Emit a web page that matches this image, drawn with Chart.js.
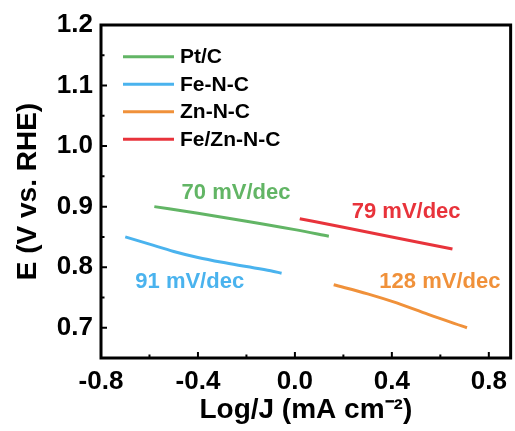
<!DOCTYPE html>
<html>
<head>
<meta charset="utf-8">
<script src="https://cdn.jsdelivr.net/npm/chart.js@4/dist/chart.umd.min.js"></script>
<style>
  html, body { margin: 0; padding: 0; background: #fff; }
  #wrap { width: 515px; height: 431px; }
</style>
</head>
<body>
<div id="wrap"><canvas id="tafelChart"></canvas></div>
<script>
// Tafel plot data
const seriesNames = ['Pt/C', 'Fe-N-C', 'Zn-N-C', 'Fe/Zn-N-C'];
const seriesColors = ['#62b565', '#4ab3ee', '#f0913a', '#e8333b'];

const ptcLogJ = [-0.58, -0.40, -0.20, 0.00, 0.14];
const ptcE    = [0.900, 0.889, 0.876, 0.862, 0.851];

const fencLogJ = [-0.70, -0.60, -0.50, -0.40, -0.30, -0.20, -0.10, -0.055];
const fencE    = [0.850, 0.838, 0.826, 0.816, 0.808, 0.801, 0.794, 0.790];

const zncLogJ = [0.16, 0.30, 0.42, 0.55, 0.71];
const zncE    = [0.771, 0.756, 0.741, 0.722, 0.700];

const fezncLogJ = [0.02, 0.20, 0.40, 0.65];
const fezncE    = [0.880, 0.866, 0.850, 0.830];

const slopeLabels = ['70 mV/dec', '91 mV/dec', '128 mV/dec', '79 mV/dec'];

const xTicks = [-0.8, -0.4, 0.0, 0.4, 0.8];
const yTicks = [0.7, 0.8, 0.9, 1.0, 1.1, 1.2];

// where the slope texts sit (data coords of text centre)
const slopeLabelPos = [
    { x: -0.243, y: 0.922 },
    { x: -0.434, y: 0.775 },
    { x: 0.598, y: 0.775 },
    { x: 0.459, y: 0.892 }
];

const FONT = '"Liberation Sans", Arial, sans-serif';

function toPoints(xs, ys) {
    return xs.map((x, i) => ({ x: x, y: ys[i] }));
}

const allX = [ptcLogJ, fencLogJ, zncLogJ, fezncLogJ];
const allY = [ptcE, fencE, zncE, fezncE];

// frame + inward ticks (major and minor), bottom and left only
const framePlugin = {
    id: 'frame',
    afterDraw(chart) {
        const { ctx, chartArea: a, scales } = chart;
        ctx.save();
        ctx.strokeStyle = '#000';
        ctx.lineWidth = 3;
        ctx.strokeRect(a.left, a.top, a.right - a.left, a.bottom - a.top);

        ctx.lineWidth = 2;
        const xs = scales.x, ys = scales.y;
        const xStep = xTicks[1] - xTicks[0];
        const yStep = yTicks[1] - yTicks[0];
        ctx.beginPath();
        for (let v = xTicks[0]; v <= xs.max + 1e-9; v += xStep / 2) {
            const p = xs.getPixelForValue(v);
            if (p <= a.left + 1 || p >= a.right - 1) continue;
            const major = Math.abs(Math.round(v / xStep) * xStep - v) < 1e-6;
            ctx.moveTo(p, a.bottom);
            ctx.lineTo(p, a.bottom - (major ? 6 : 3.5));
        }
        for (let v = yTicks[0] - yStep / 2; v <= ys.max + 1e-9; v += yStep / 2) {
            const p = ys.getPixelForValue(v);
            if (p <= a.top + 1 || p >= a.bottom - 1) continue;
            const k = (v - yTicks[0]) / yStep;
            const major = Math.abs(Math.round(k) - k) < 1e-6;
            ctx.moveTo(a.left, p);
            ctx.lineTo(a.left + (major ? 6 : 3.5), p);
        }
        ctx.stroke();
        ctx.restore();
    }
};

// legend in the upper left and the slope texts
const labelPlugin = {
    id: 'labels',
    afterDraw(chart) {
        const { ctx, scales } = chart;
        ctx.save();
        ctx.textBaseline = 'middle';

        ctx.font = 'bold 21px ' + FONT;
        ctx.textAlign = 'left';
        chart.data.datasets.forEach((ds, i) => {
            const y = 56.7 + i * 27.5;
            ctx.strokeStyle = ds.borderColor;
            ctx.lineWidth = 3;
            ctx.beginPath();
            ctx.moveTo(123, y);
            ctx.lineTo(174, y);
            ctx.stroke();
            ctx.fillStyle = '#000';
            ctx.fillText(ds.label, 180, y + 1);
        });

        ctx.font = 'bold 22px ' + FONT;
        ctx.textAlign = 'center';
        slopeLabels.forEach((txt, i) => {
            const pos = slopeLabelPos[i];
            ctx.fillStyle = seriesColors[i];
            ctx.fillText(txt, scales.x.getPixelForValue(pos.x), scales.y.getPixelForValue(pos.y));
        });
        ctx.restore();
    }
};

const ctx = document.getElementById('tafelChart').getContext('2d');

new Chart(ctx, {
    type: 'scatter',
    data: {
        datasets: seriesNames.map((name, i) => ({
            label: name,
            data: toPoints(allX[i], allY[i]),
            showLine: true,
            borderColor: seriesColors[i],
            backgroundColor: seriesColors[i],
            borderWidth: 3,
            pointRadius: 0,
            cubicInterpolationMode: 'monotone',
            fill: false
        }))
    },
    options: {
        responsive: true,
        maintainAspectRatio: false,
        animation: false,
        layout: {
            padding: { top: 25, right: 2, left: 0, bottom: 0 }
        },
        plugins: {
            legend: { display: false },
            tooltip: { enabled: false }
        },
        scales: {
            x: {
                type: 'linear',
                min: -0.8,
                max: 0.89,
                afterBuildTicks: (s) => { s.ticks = xTicks.map(v => ({ value: v })); },
                afterFit: (s) => { s.height = 73; },
                grid: { display: false, drawTicks: false },
                border: { display: false },
                ticks: {
                    color: '#000',
                    padding: 8,
                    maxRotation: 0,
                    autoSkip: false,
                    font: { family: FONT, size: 26, weight: 'bold' },
                    callback: (v) => Number(v).toFixed(1)
                },
                title: {
                    display: true,
                    text: 'Log/J (mA cm⁻²)',
                    color: '#000',
                    padding: { top: 0, bottom: 4 },
                    font: { family: FONT, size: 28, weight: 'bold' }
                }
            },
            y: {
                type: 'linear',
                min: 0.65,
                max: 1.2,
                afterBuildTicks: (s) => { s.ticks = yTicks.map(v => ({ value: v })); },
                afterFit: (s) => { s.width = 101; },
                grid: { display: false, drawTicks: false },
                border: { display: false },
                ticks: {
                    color: '#000',
                    padding: 8,
                    autoSkip: false,
                    font: { family: FONT, size: 26, weight: 'bold' },
                    callback: (v) => Number(v).toFixed(1)
                },
                title: {
                    display: true,
                    text: 'E (V vs. RHE)',
                    color: '#000',
                    padding: { top: 11, bottom: 0 },
                    font: { family: FONT, size: 28, weight: 'bold' }
                }
            }
        }
    },
    plugins: [framePlugin, labelPlugin]
});
</script>
</body>
</html>
